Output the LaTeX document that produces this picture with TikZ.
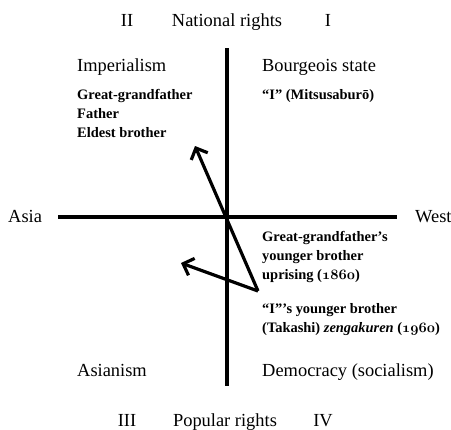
\documentclass[tikz,border=0pt]{standalone}
\usepackage{fontspec}
\setmainfont{Liberation Serif}
\usetikzlibrary{arrows.meta}
\newcommand\osn[1]{{\usefont{OML}{cmm}{b}{it}#1}}
\tikzset{
  lbl/.style={font=\fontsize{18.5}{21}\selectfont, inner sep=0pt},
  who/.style={font=\fontsize{14.5}{19}\selectfont\bfseries, inner sep=0pt, align=left, anchor=base west},
  axis/.style={line width=3.2bp},
  move/.style={line width=3.2bp, -{Straight Barb[length=9bp,width=18bp]}, miter limit=4}
}
\begin{document}
\begin{tikzpicture}[x=1bp,y=-1bp]
        \useasboundingbox (0,0) rectangle (451,429);
        % axes
        \coordinate (top) at (227,48);
        \coordinate (bot) at (227,386);
        \coordinate (left) at (58,217);
        \coordinate (right) at (397,217);
        \draw[axis] (top) -- (bot);
        \draw[axis] (left) -- (right);
        % quadrant numbers and poles
        \node[lbl, anchor=base] (qii) at (127,26) {II};
        \node[lbl, anchor=base] (nat) at (227,26) {National rights};
        \node[lbl, anchor=base] (qi) at (328,26) {I};
        \node[lbl, anchor=base] (qiii) at (127,426) {III};
        \node[lbl, anchor=base] (pop) at (225,426) {Popular rights};
        \node[lbl, anchor=base] (qiv) at (323,426) {IV};
        \node[lbl, anchor=base west] (asia) at (8,222) {Asia};
        \node[lbl, anchor=base west] (west) at (415,222) {West};
        % quadrant names
        \node[lbl, anchor=base west] (imp) at (77,71) {Imperialism};
        \node[lbl, anchor=base west] (bour) at (262,71) {Bourgeois state};
        \node[lbl, anchor=base west] (asian) at (77,376) {Asianism};
        \node[lbl, anchor=base west] (demo) at (262,376) {Democracy (socialism)};
        % characters (base = last line)
        \node[who] (fam) at (77,137) {Great-grandfather\\Father\\Eldest brother};
        \node[who] (me) at (262,99) {“I” (Mitsusaburō)};
        \node[who] (upr) at (262,279) {Great-grandfather’s\\younger brother\\uprising (\osn{1860})};
        \node[who] (tak) at (262,332) {“I”’s younger brother\\(Takashi) \textit{zengakuren} (\osn{1960})};
        % movements
        \coordinate (turn) at (258,291);
        \coordinate (upend) at (195,146);
        \coordinate (lowend) at (181,263);
        \draw[move] (turn) -- (upend);
        \draw[move] (turn) -- (lowend);
\end{tikzpicture}
\end{document}
